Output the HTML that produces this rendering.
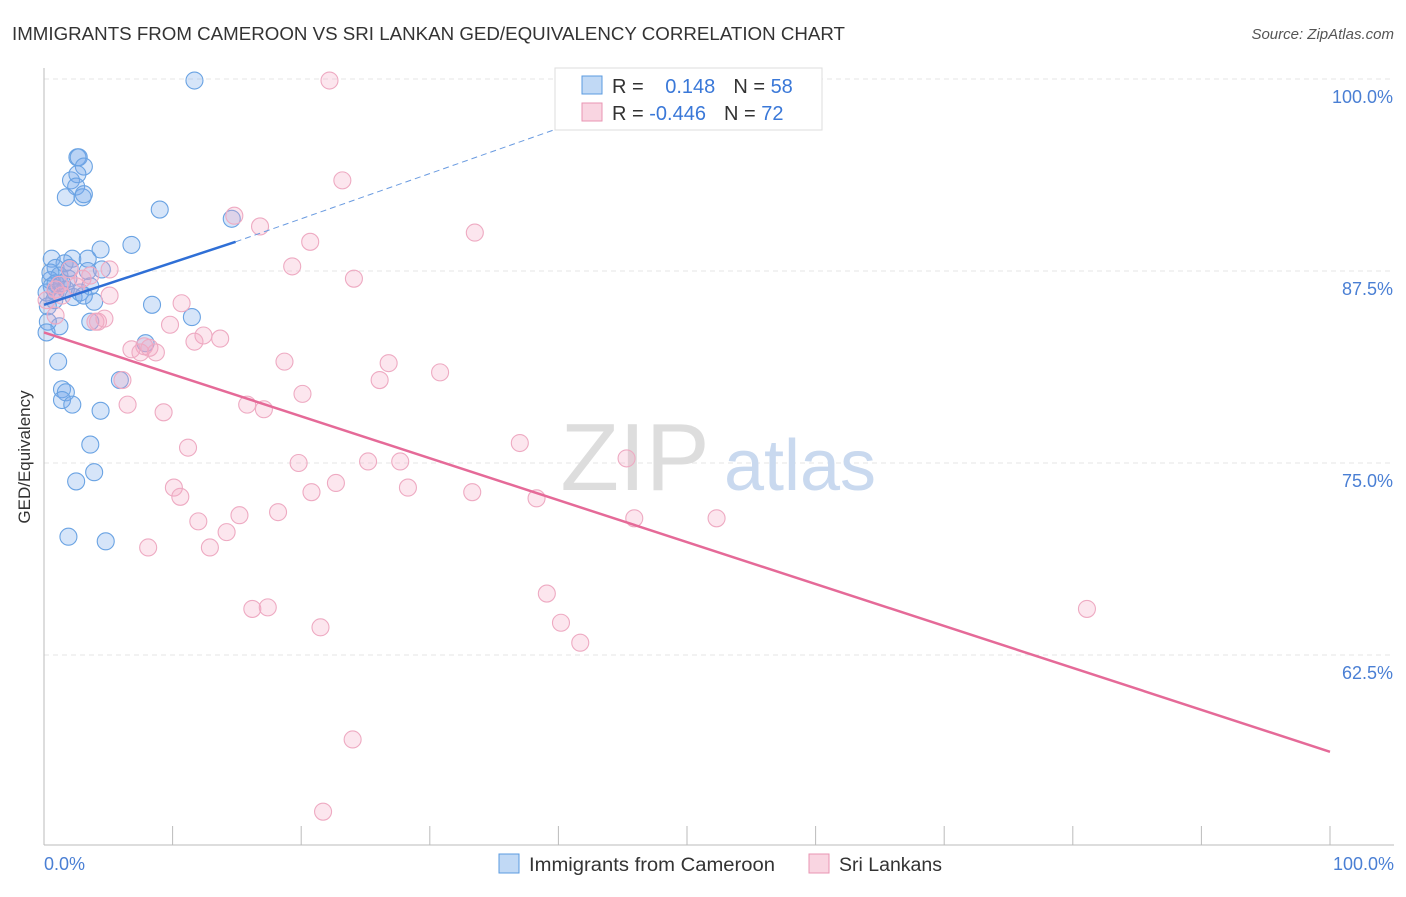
<!DOCTYPE html>
<html><head><meta charset="utf-8"><style>
body{margin:0;background:#fff;font-family:"Liberation Sans",sans-serif;}
svg text{font-family:"Liberation Sans",sans-serif;}
</style></head><body>
<svg id="c" width="1406" height="892">
<text x="12" y="40" font-size="18" fill="#333" textLength="833" lengthAdjust="spacingAndGlyphs">IMMIGRANTS FROM CAMEROON VS SRI LANKAN GED/EQUIVALENCY CORRELATION CHART</text>
<text x="1394" y="39" font-size="15" fill="#555" text-anchor="end" font-style="italic">Source: ZipAtlas.com</text>
<g id="grid"></g>
<g>
<text x="635" y="490" font-size="96" fill="#ddd" font-family="Liberation Serif,serif" text-anchor="middle">ZIP</text>
<text x="800" y="490" font-size="72" fill="#c9d9ef" text-anchor="middle">atlas</text>
</g>
<line x1="44" y1="68" x2="44" y2="845" stroke="#bbb"/>
<line x1="44" y1="845" x2="1394" y2="845" stroke="#bbb"/>
<text x="30" y="457" font-size="17" fill="#333" text-anchor="middle" transform="rotate(-90 30 457)">GED/Equivalency</text>
<text x="44" y="870" font-size="18" fill="#4a7fd4">0.0%</text>
<text x="1394" y="870" font-size="18" fill="#4a7fd4" text-anchor="end">100.0%</text>
<g id="pts"></g>
<g id="lines"></g>
<g>
<rect x="555" y="68" width="267" height="62" fill="#fff" stroke="#ddd"/>
<rect x="582" y="76" width="20" height="18" fill="rgba(100,160,230,0.4)" stroke="#5b9be0"/>
<rect x="582" y="103" width="20" height="18" fill="rgba(240,150,180,0.4)" stroke="#e995b3"/>
<text x="612" y="93" font-size="20" fill="#333">R = <tspan fill="#3a78d8" dx="16">0.148</tspan><tspan dx="18" fill="#333">N = </tspan><tspan fill="#3a78d8">58</tspan></text>
<text x="612" y="120" font-size="20" fill="#333">R = <tspan fill="#3a78d8">-0.446</tspan><tspan dx="18" fill="#333">N = </tspan><tspan fill="#3a78d8">72</tspan></text>
</g>
<g>
<rect x="499" y="854" width="20" height="19" fill="rgba(100,160,230,0.4)" stroke="#5b9be0"/>
<text x="529" y="871" font-size="19" fill="#333" textLength="246" lengthAdjust="spacingAndGlyphs">Immigrants from Cameroon</text></g>
<g>
<rect x="809" y="854" width="20" height="19" fill="rgba(240,150,180,0.4)" stroke="#e995b3"/>
<text x="839" y="871" font-size="19" fill="#333" textLength="103" lengthAdjust="spacingAndGlyphs">Sri Lankans</text></g>
</svg>
<script>
const yTicks=[100,87.5,75,62.5];
const yTickLabels=["100.0%","87.5%","75.0%","62.5%"];
const blueX=[11.7,2.6,2.7,3.1,2.1,2.6,2.5,1.7,3.0,3.1,9.0,14.6,6.8,4.4,0.6,2.2,3.4,1.6,0.9,4.5,3.4,1.2,1.9,0.5,0.9,0.6,3.6,1.7,0.2,2.3,3.9,0.8,8.4,11.5,3.6,1.2,0.3,0.2,7.9,1.1,5.9,1.4,1.7,1.4,2.2,4.4,3.6,3.9,2.5,1.9,4.8,0.5,0.9,2.8,1.4,2.0,0.3,3.1];
const blueY=[99.9,94.9,94.9,94.3,93.4,93.8,93.0,92.3,92.3,92.5,91.5,90.9,89.2,88.9,88.3,88.3,88.3,88.0,87.7,87.6,87.5,87.2,87.0,86.9,86.7,86.5,86.5,86.3,86.1,85.8,85.5,85.6,85.3,84.5,84.2,83.9,84.2,83.5,82.8,81.6,80.4,79.8,79.6,79.1,78.8,78.4,76.2,74.4,73.8,70.2,69.9,87.4,86.1,86.1,86.7,87.7,85.2,85.9];
const pinkX=[22.2,23.2,14.8,16.8,33.5,20.7,19.3,24.1,2.0,3.0,5.1,10.7,0.9,1.4,4.2,4.7,9.8,4.0,12.4,13.7,11.7,7.8,6.8,7.5,8.7,8.2,18.7,26.8,30.8,26.1,6.1,6.5,15.8,17.1,9.3,20.1,37.0,11.2,19.8,25.2,27.7,45.3,10.1,10.6,28.3,20.8,22.7,33.3,38.3,15.2,18.2,12.0,14.2,45.9,52.3,8.1,12.9,16.2,17.4,39.1,40.2,41.7,21.5,81.1,24.0,21.7,0.9,0.2,1.2,3.6,2.5,5.1];
const pinkY=[99.9,93.4,91.1,90.4,90.0,89.4,87.8,87.0,87.6,87.0,85.9,85.4,86.3,85.9,84.2,84.4,84.0,84.2,83.3,83.1,82.9,82.6,82.4,82.2,82.2,82.5,81.6,81.5,80.9,80.4,80.4,78.8,78.8,78.5,78.3,79.5,76.3,76.0,75.0,75.1,75.1,75.3,73.4,72.8,73.4,73.1,73.7,73.1,72.7,71.6,71.8,71.2,70.5,71.4,71.4,69.5,69.5,65.5,65.6,66.5,64.6,63.3,64.3,65.5,57.0,52.3,84.6,85.6,86.6,87.2,86.5,87.6];
const blueTrend=[[0,85.3],[14.9,89.4],[39.7,96.7]];
const pinkTrend=[[0,83.5],[100,56.2]];
const xTicks=[10,20,30,40,50,60,70,80,90,100];
const sx=v=>44+v*12.86, sy=v=>79+(100-v)*15.36;
const NS="http://www.w3.org/2000/svg";
function mk(t,a,p){const e=document.createElementNS(NS,t);for(const k in a)e.setAttribute(k,a[k]);p.appendChild(e);return e;}
const g=document.getElementById('grid');
yTicks.forEach((t,i)=>{
 const l=mk('line',{x1:44,x2:1394,y1:sy(t),y2:sy(t),stroke:'#e6e6e6','stroke-dasharray':'5,4'},g);
 
 
 const tx=mk('text',{x:1393,y:sy(t)+24,'font-size':18,fill:'#4a7fd4','text-anchor':'end'},g);
 tx.textContent=yTickLabels[i];
 
 
});
xTicks.forEach(t=>{
 const l=mk('line',{x1:sx(t),x2:sx(t),y1:826,y2:845,stroke:'#bbb'},g);
 
 
});
const P=document.getElementById('pts');
blueX.forEach((x,i)=>{
 const c=mk('circle',{cx:sx(x),cy:sy(blueY[i]),r:8.5,fill:'rgba(120,170,235,0.3)',stroke:'#6aa3e3','stroke-width':1.1},P);
 
 
});
pinkX.forEach((x,i)=>{
 const c=mk('circle',{cx:sx(x),cy:sy(pinkY[i]),r:8.5,fill:'rgba(245,165,195,0.28)',stroke:'#eeaac2','stroke-width':1.1},P);
 
 
});
const L=document.getElementById('lines');
const b1=mk('line',{x1:sx(blueTrend[0][0]),y1:sy(blueTrend[0][1]),x2:sx(blueTrend[1][0]),y2:sy(blueTrend[1][1]),stroke:'#2f6fd6','stroke-width':2.5},L);


const b2=mk('line',{x1:sx(blueTrend[1][0]),y1:sy(blueTrend[1][1]),x2:sx(blueTrend[2][0]),y2:sy(blueTrend[2][1]),stroke:'#6a9be0','stroke-width':1,'stroke-dasharray':'6,4'},L);


const p1=mk('line',{x1:sx(pinkTrend[0][0]),y1:sy(pinkTrend[0][1]),x2:sx(pinkTrend[1][0]),y2:sy(pinkTrend[1][1]),stroke:'#e56a98','stroke-width':2.5},L);


</script>
</body></html>
